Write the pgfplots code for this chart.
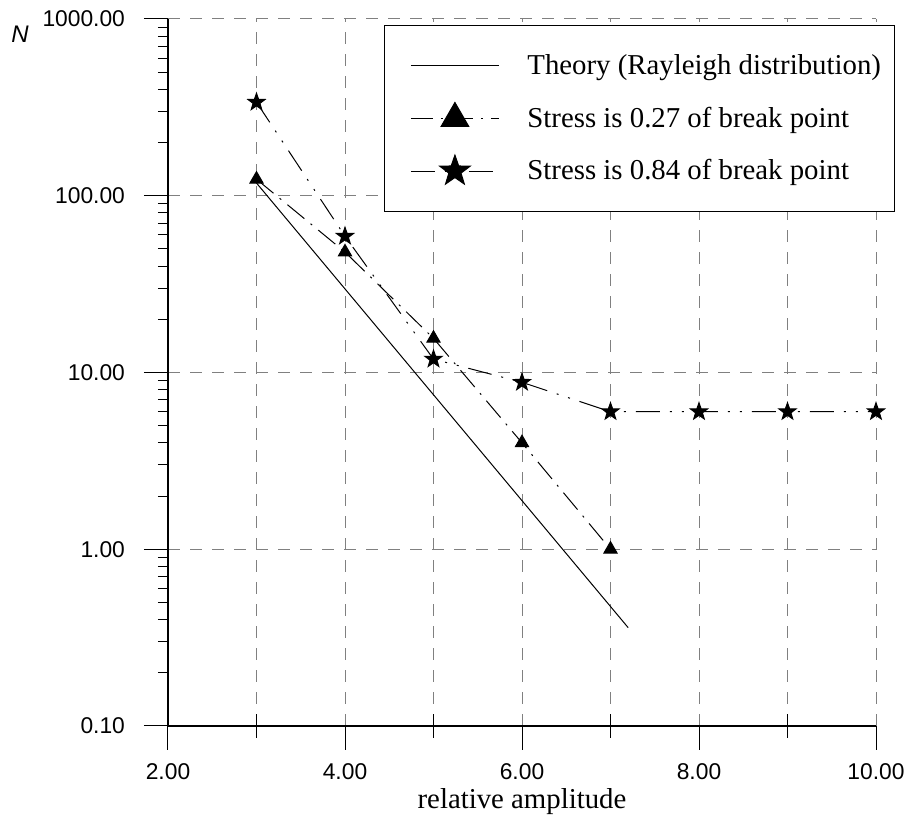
\documentclass[border=0pt]{standalone}
\usepackage{fontspec}
\setmainfont{Liberation Serif}
\setsansfont{Liberation Sans}
\usepackage{pgfplots}
\pgfplotsset{compat=1.18}

% filled five-pointed star
\pgfdeclareplotmark{fivestar}{%
  \pgfpathmoveto{\pgfpointpolar{90}{\pgfplotmarksize}}%
  \pgfpathlineto{\pgfpointpolar{126}{0.4\pgfplotmarksize}}%
  \pgfpathlineto{\pgfpointpolar{162}{\pgfplotmarksize}}%
  \pgfpathlineto{\pgfpointpolar{198}{0.4\pgfplotmarksize}}%
  \pgfpathlineto{\pgfpointpolar{234}{\pgfplotmarksize}}%
  \pgfpathlineto{\pgfpointpolar{270}{0.4\pgfplotmarksize}}%
  \pgfpathlineto{\pgfpointpolar{306}{\pgfplotmarksize}}%
  \pgfpathlineto{\pgfpointpolar{342}{0.4\pgfplotmarksize}}%
  \pgfpathlineto{\pgfpointpolar{18}{\pgfplotmarksize}}%
  \pgfpathlineto{\pgfpointpolar{54}{0.4\pgfplotmarksize}}%
  \pgfpathclose
  \pgfusepathqfillstroke
}

\begin{document}
\begin{tikzpicture}
\begin{axis}[
    name=ax,
    scale only axis, width=354pt, height=353.5pt,
    ymode=log, xmin=2, xmax=10, ymin=0.1, ymax=1000,
    axis x line*=bottom, axis y line*=left,
    axis line style={-, line width=0.6pt},
    xtick={2,4,6,8,10}, xticklabels={2.00,4.00,6.00,8.00,10.00},
    extra x ticks={3,5,7,9}, extra x tick labels={},
    extra x tick style={tick align=center, grid=major},
    ytick={0.1,1,10,100,1000}, yticklabels={0.10,1.00,10.00,100.00,1000.00},
    minor ytick={0.2,0.3,0.4,0.5,0.6,0.7,0.8,0.9,2,3,4,5,6,7,8,9,20,30,40,50,60,70,80,90,200,300,400,500,600,700,800,900},
    tick align=outside, major tick length=12pt, minor tick length=5pt,
    tick style={black, line width=0.5pt},
    grid=major, major grid style={dash pattern=on 6pt off 5pt, gray, line width=0.5pt},
    minor grid style={draw=none},
    ticklabel style={font=\sffamily\fontsize{11.4}{13}\selectfont},
    yticklabel style={xshift=-6pt},
    xticklabel style={yshift=-3.5pt},
    /pgf/number format/assume math mode=true,
    xlabel={relative amplitude},
    xlabel style={at={(axis description cs:0.5,-0.107)}, anchor=center, font=\fontsize{14.4}{16}\selectfont},
    ylabel={\sffamily\itshape N},
    ylabel style={rotate=-90, at={(axis description cs:-0.209,0.979)}, anchor=center, font=\fontsize{12}{14}\selectfont},
    legend style={at={(0.305,0.9915)}, anchor=north west, draw=black, line width=0.5pt,
        font=\fontsize{14.4}{16}\selectfont, inner xsep=5pt, inner ysep=12.5pt, row sep=10.5pt,
        /tikz/every odd column/.append style={column sep=12pt}},
    legend cell align=left,
]
\addplot[black, line width=0.5pt,
    legend image code/.code={\path (-8pt,0pt); \draw (0pt,0pt) -- (44pt,0pt);}]
    coordinates {(3,118) (7.2,0.36)};
\addlegendentry{Theory (Rayleigh distribution)}

\addplot[black, line width=0.5pt, dash pattern=on 11pt off 4pt on 1pt off 4pt,
    mark=triangle*, mark size=3.8pt, mark options={solid},
    legend image code/.code={\path (-8pt,0pt); \draw[mark repeat=2, mark phase=2, mark size=8pt] plot coordinates {(0pt,0pt) (22pt,0pt) (44pt,0pt)};}]
    coordinates {(3,124) (4,48) (5,15.6) (6,4) (7,1)};
\addlegendentry{Stress is 0.27 of break point}

\addplot[black, line width=0.5pt, dash pattern=on 12pt off 5pt on 1pt off 5pt on 1pt off 5pt,
    mark=fivestar, mark size=4.5pt, mark options={solid, fill=black},
    legend image code/.code={\path (-8pt,0pt); \draw[mark repeat=2, mark phase=2, mark size=8pt] plot coordinates {(0pt,0pt) (22pt,0pt) (44pt,0pt)};}]
    coordinates {(3,338) (4,59) (5,11.9) (6,8.8) (7,6) (8,6) (9,6) (10,6)};
\addlegendentry{Stress is 0.84 of break point}
\end{axis}
% page margins as in the reference
\pgfresetboundingbox
\path[use as bounding box] ([shift={(-84pt,9.5pt)}]ax.north west) rectangle ([shift={(15.5pt,-47.5pt)}]ax.south east);
\end{tikzpicture}
\end{document}
